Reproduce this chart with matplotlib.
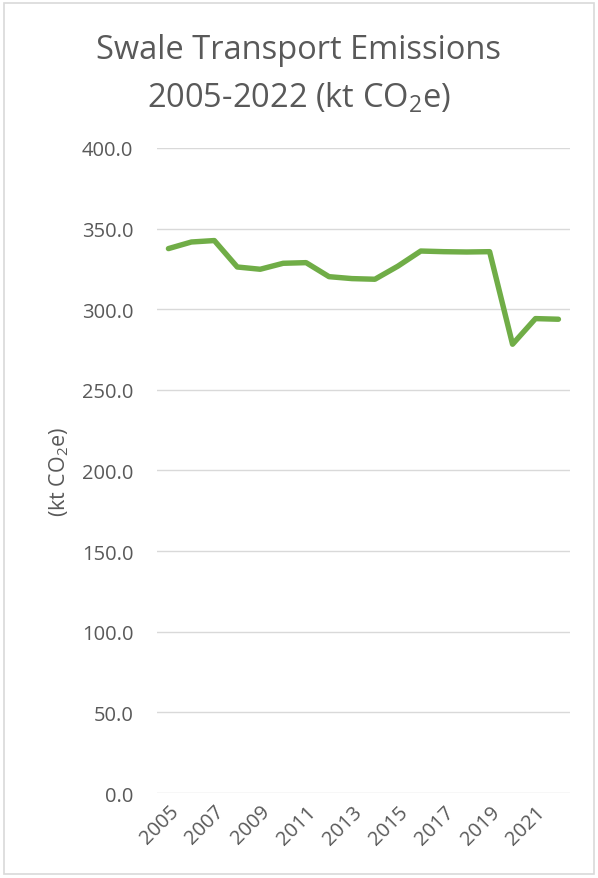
import matplotlib
matplotlib.use('Agg')
import matplotlib.pyplot as plt
from matplotlib.patches import Rectangle

# Swale transport emissions, kt CO2e
years = list(range(2005, 2023))
emissions = [337.6, 341.7, 342.6, 326.2, 324.8, 328.5, 328.9, 320.2, 319.0,
             318.6, 326.7, 336.1, 335.7, 335.5, 335.7, 278.3, 294.2, 293.8]
y_ticks = [0, 50, 100, 150, 200, 250, 300, 350, 400]
x_ticks = [2005, 2007, 2009, 2011, 2013, 2015, 2017, 2019, 2021]

TEXT = '#595959'
GRID = '#D9D9D9'
GREEN = '#70AD47'

plt.rcParams['font.family'] = ['Open Sans', 'DejaVu Sans']
plt.rcParams['mathtext.fontset'] = 'custom'
plt.rcParams['mathtext.rm'] = 'Open Sans'

fig = plt.figure(figsize=(5.98, 8.79), dpi=100)
ax = fig.add_axes([0.2625, 0.0967, 0.953 - 0.2625, 0.8305 - 0.0967])

# chart border
fig.patches.append(Rectangle((0.006, 0.004), 0.988, 0.992,
                             transform=fig.transFigure, fill=False,
                             edgecolor=GRID, linewidth=1.2))

ax.plot(years, emissions, color=GREEN, linewidth=3.9,
        solid_capstyle='round', solid_joinstyle='round', zorder=3)

ax.set_xlim(2004.5, 2022.5)
ax.set_ylim(0, 400)
ax.set_yticks(y_ticks)
ax.set_yticklabels(['%.1f' % v for v in y_ticks])
ax.set_xticks(x_ticks)
ax.set_xticklabels([str(v) for v in x_ticks], rotation=45,
                   ha='right', rotation_mode='anchor')

ax.grid(True, axis='y', color=GRID, linewidth=1.0)
ax.set_axisbelow(True)
for s in ax.spines.values():
    s.set_visible(False)
ax.tick_params(axis='both', length=0, colors=TEXT, labelsize=14.5)
ax.tick_params(axis='y', pad=17)
ax.tick_params(axis='x', pad=6)

ax.set_ylabel(r'(kt CO$_\mathrm{2}$e)', color=TEXT, fontsize=15.5, labelpad=8)

fig.text(0.5, 0.943, 'Swale Transport Emissions', ha='center', va='center',
         color=TEXT, fontsize=23.5)
fig.text(0.5, 0.889, r'2005-2022 (kt CO$_\mathrm{2}$e)', ha='center',
         va='center', color=TEXT, fontsize=23.5)

fig.savefig('out.png', dpi=100)
